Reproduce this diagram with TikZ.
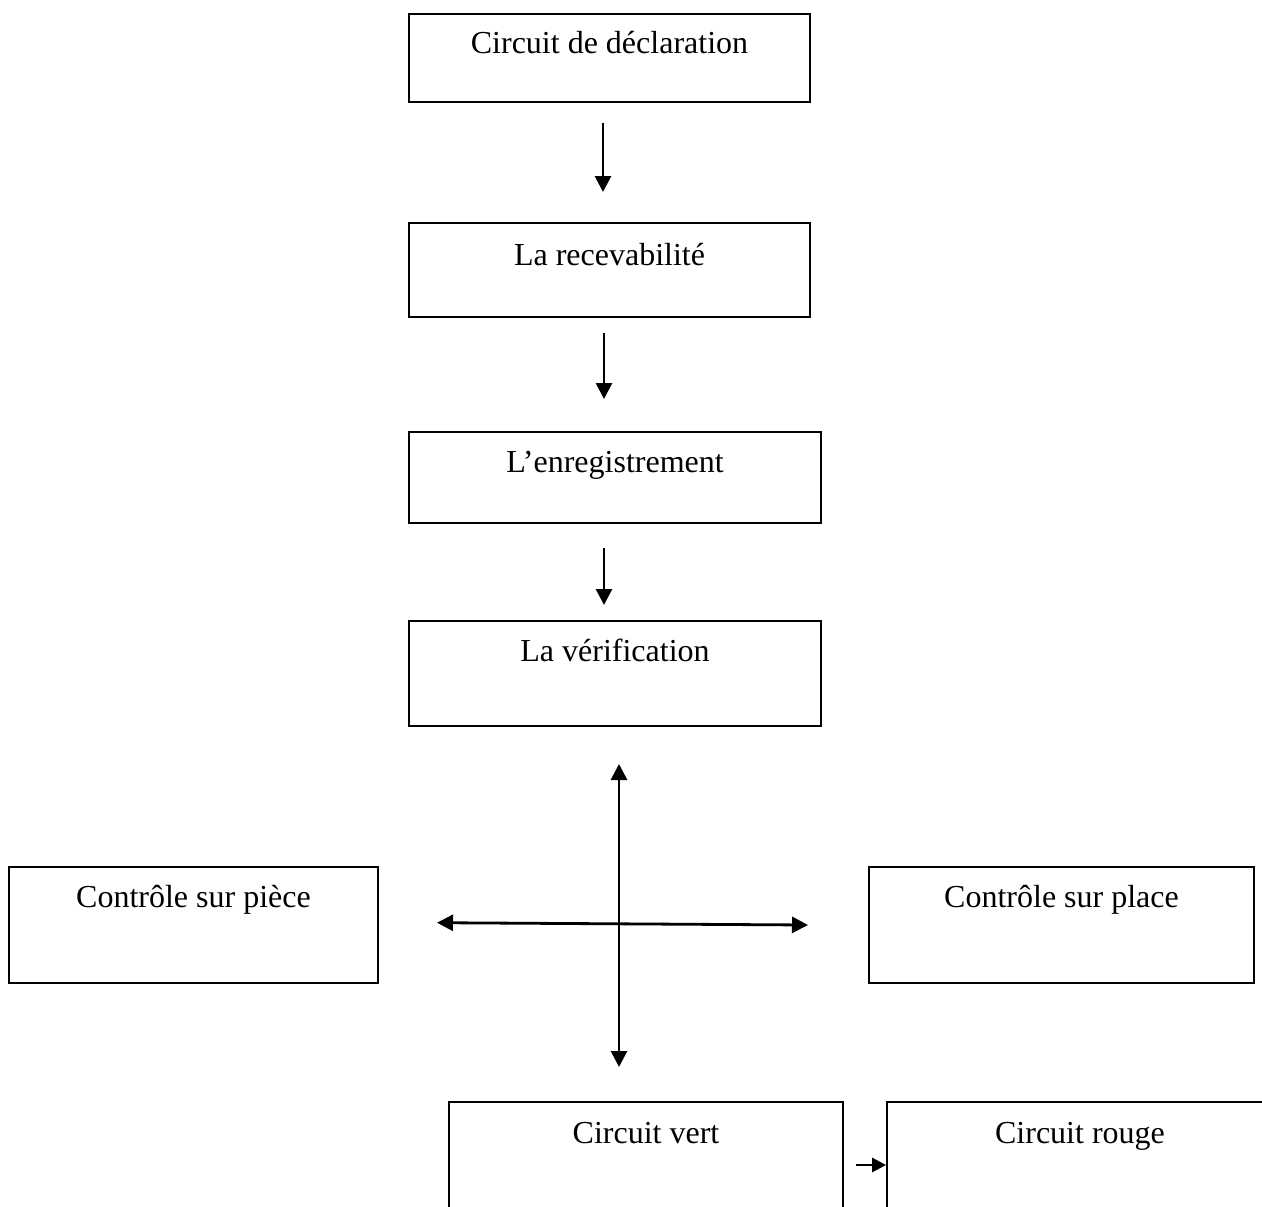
\documentclass[tikz,border=0pt]{standalone}
\usepackage{fontspec}
\setmainfont{Liberation Serif}
\usetikzlibrary{arrows.meta}
\tikzset{
  boxst/.style={draw=black, line width=1.8pt, inner sep=0pt, fill=none},
  txt/.style={anchor=base, inner sep=0pt, font=\fontsize{32}{38}\selectfont},
  arr/.style={line width=2.8pt, -{Triangle[length=16pt,width=16pt]}},
  darr/.style={line width=2.8pt, {Triangle[length=16pt,width=16pt]}-{Triangle[length=16pt,width=16pt]}},
  sarr/.style={line width=2.8pt, -{Triangle[length=14pt,width=14pt]}}
}
\begin{document}
\begin{tikzpicture}[x=1pt,y=-1pt]
\clip (0,0) rectangle (1262,1207);
\fill[white] (0,0) rectangle (1262,1207);

% boxes
\node[boxst, minimum width=401pt, minimum height=88pt] (b1) at (609.5,58) {};
\node[boxst, minimum width=401pt, minimum height=94pt] (b2) at (609.5,270) {};
\node[boxst, minimum width=412pt, minimum height=91pt] (b3) at (615,477.5) {};
\node[boxst, minimum width=412pt, minimum height=105pt] (b4) at (615,673.5) {};
\node[boxst, minimum width=369pt, minimum height=116pt] (b5) at (193.5,925) {};
\node[boxst, minimum width=385pt, minimum height=116pt] (b6) at (1061.5,925) {};
\node[boxst, minimum width=394pt, minimum height=160pt] (b7) at (646,1182) {};
\node[boxst, minimum width=386pt, minimum height=160pt] (b8) at (1080,1182) {};

% texts
\node[txt] (t1) at (609.5,54) {Circuit de déclaration};
\node[txt] (t2) at (609.5,265) {La recevabilité};
\node[txt] (t3) at (615,472) {L’enregistrement};
\node[txt] (t4) at (615,661) {La vérification};
\node[txt] (t5) at (193.5,907) {Contrôle sur pièce};
\node[txt] (t6) at (1061.5,907) {Contrôle sur place};
\node[txt] (t7) at (646,1143) {Circuit vert};
\node[txt] (t8) at (1080,1143) {Circuit rouge};

% arrow end points
\coordinate (a1s) at (603,123);
\coordinate (a1e) at (603,192);
\coordinate (a2s) at (604,333);
\coordinate (a2e) at (604,399);
\coordinate (a3s) at (604,548);
\coordinate (a3e) at (604,605);
\coordinate (vt) at (619,764);
\coordinate (vb) at (619,1067);
\coordinate (hl) at (437,922.7);
\coordinate (hr) at (808,925);
\coordinate (ss) at (856,1165);

\draw[arr] (a1s) -- (a1e);
\draw[arr] (a2s) -- (a2e);
\draw[arr] (a3s) -- (a3e);
\draw[darr] (vt) -- (vb);
\draw[darr] (hl) -- (hr);
\draw[sarr] (ss) -- (ss -| b8.west);
\end{tikzpicture}
\end{document}
